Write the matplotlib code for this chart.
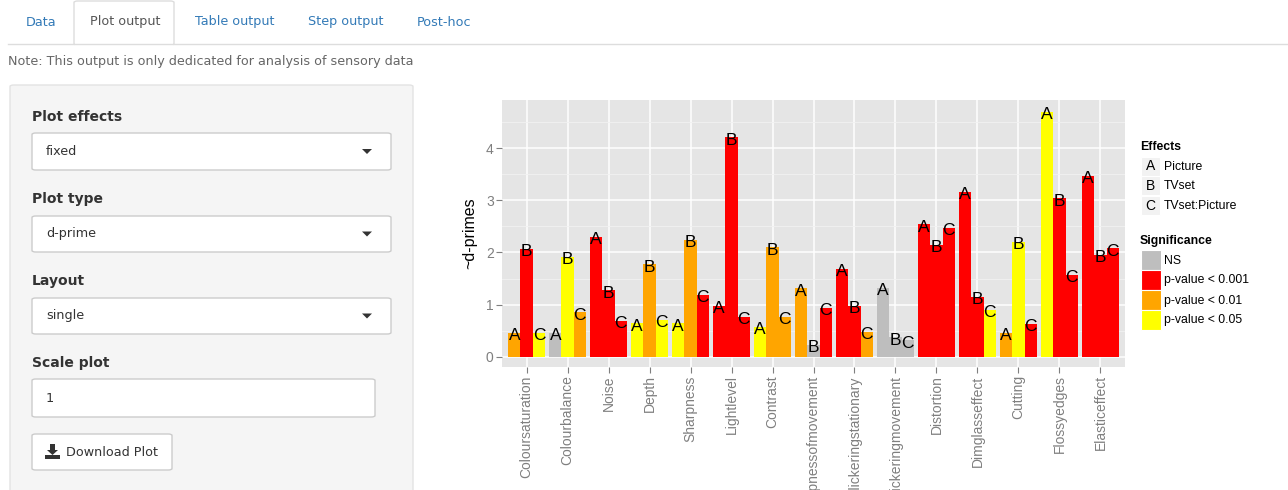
import numpy as np
import matplotlib.pyplot as plt
from matplotlib.patches import FancyBboxPatch, Rectangle, Polygon

# d-prime values per attribute and effect
attributes = ["Coloursaturation", "Colourbalance", "Noise", "Depth", "Sharpness",
              "Lightlevel", "Contrast", "Sharpnessofmovement", "Flickeringstationary",
              "Flickeringmovement", "Distortion", "Dimglasseffect", "Cutting",
              "Flossyedges", "Elasticeffect"]
effects = ["A", "B", "C"]
effect_names = ["Picture", "TVset", "TVset:Picture"]

dprime_picture = [0.46, 0.45, 2.30, 0.64, 0.64, 0.97, 0.57, 1.31, 1.68, 1.32, 2.54, 3.16, 0.46, 4.70, 3.47]
dprime_tvset = [2.07, 1.91, 1.27, 1.77, 2.24, 4.21, 2.10, 0.22, 0.98, 0.37, 2.14, 1.15, 2.21, 3.04, 1.96]
dprime_inter = [0.46, 0.85, 0.68, 0.70, 1.19, 0.76, 0.77, 0.93, 0.47, 0.31, 2.48, 0.90, 0.63, 1.57, 2.08]

# significance: 0 = NS, 1 = p<0.001, 2 = p<0.01, 3 = p<0.05
sig_picture = [2, 0, 1, 3, 3, 1, 3, 2, 1, 0, 1, 1, 2, 3, 1]
sig_tvset = [1, 3, 1, 2, 2, 1, 2, 0, 1, 0, 1, 1, 3, 1, 1]
sig_inter = [3, 2, 1, 3, 1, 1, 2, 1, 2, 0, 1, 3, 1, 1, 1]

sig_labels = ["NS", "p-value < 0.001", "p-value < 0.01", "p-value < 0.05"]
sig_colors = ["#BEBEBE", "#FF0000", "#FFA500", "#FFFF00"]

W, H = 1288, 490
fig = plt.figure(figsize=(W / 100, H / 100), dpi=100)
fig.patch.set_facecolor("white")


def fx(x):
    return x / W


def fy(y):
    return 1 - y / H


ui = "DejaVu Sans"
blue = "#337AB7"

# ---- tabs ----
fig.add_artist(plt.Line2D([fx(8), fx(W)], [fy(44.5), fy(44.5)], color="#DDDDDD", lw=1))
fig.add_artist(FancyBboxPatch((fx(74), fy(45)), fx(100), 44 / H,
                              boxstyle="round,pad=0,rounding_size=0.003",
                              fc="white", ec="#DDDDDD", lw=1))
fig.add_artist(Rectangle((fx(75), fy(46)), fx(98), 3 / H, fc="white", ec="none"))
for label, x0, col in [("Data", 26, blue), ("Plot output", 90, "#555555"),
                       ("Table output", 195, blue), ("Step output", 308, blue),
                       ("Post-hoc", 417, blue)]:
    fig.text(fx(x0), fy(22), label, color=col, fontsize=9.2, family=ui, va="center")
fig.text(fx(8), fy(62), "Note: This output is only dedicated for analysis of sensory data",
         color="#666666", fontsize=9.2, family=ui, va="center")

# ---- sidebar ----
fig.add_artist(FancyBboxPatch((fx(10), fy(495)), fx(403), 410 / H,
                              boxstyle="round,pad=0,rounding_size=0.003",
                              fc="#F5F5F5", ec="#E3E3E3", lw=1))
controls = [("Plot effects", 117, "fixed", 133, 170, 391, True),
            ("Plot type", 199, "d-prime", 216, 252, 391, True),
            ("Layout", 281, "single", 298, 334, 391, True),
            ("Scale plot", 363, "1", 379, 417, 375, False)]
for lab, ly, val, y0, y1, x1, caret in controls:
    fig.text(fx(32), fy(ly), lab, fontsize=10, weight="bold", color="#333333",
             family=ui, va="center")
    fig.add_artist(FancyBboxPatch((fx(32), fy(y1)), fx(x1 - 32), (y1 - y0) / H,
                                  boxstyle="round,pad=0,rounding_size=0.003",
                                  fc="white", ec="#CCCCCC", lw=1))
    fig.text(fx(46), fy((y0 + y1) / 2), val, fontsize=9.2, color="#333333",
             family=ui, va="center")
    if caret:
        cy = (y0 + y1) / 2
        fig.add_artist(Polygon([(fx(362), fy(cy - 2.5)), (fx(372), fy(cy - 2.5)),
                                (fx(367), fy(cy + 2.5))], closed=True,
                               fc="#333333", ec="none"))

# download button
fig.add_artist(FancyBboxPatch((fx(32), fy(470)), fx(140), 36 / H,
                              boxstyle="round,pad=0,rounding_size=0.003",
                              fc="white", ec="#CCCCCC", lw=1))
fig.add_artist(Polygon([(fx(50), fy(444)), (fx(55), fy(444)), (fx(55), fy(450)),
                        (fx(58), fy(450)), (fx(52.5), fy(455)), (fx(47), fy(450)),
                        (fx(50), fy(450))], closed=True, fc="#333333", ec="none"))
fig.add_artist(Rectangle((fx(45), fy(459)), fx(15), 4 / H, fc="#333333", ec="none"))
fig.text(fx(66), fy(452), "Download Plot", fontsize=9.2, color="#333333",
         family=ui, va="center")

# ---- ggplot-like chart ----
ax = fig.add_axes([fx(502), fy(367), fx(1125 - 502), (367 - 100) / H])
ax.set_facecolor("#E5E5E5")
for s in ax.spines.values():
    s.set_visible(False)

x = np.arange(len(attributes))
width = 0.3
series = [(dprime_picture, sig_picture), (dprime_tvset, sig_tvset), (dprime_inter, sig_inter)]
for k, (vals, sigs) in enumerate(series):
    pos = x + (k - 1) * width
    ax.bar(pos, vals, width, color=[sig_colors[s] for s in sigs], edgecolor="none", zorder=2)
    for px, v in zip(pos, vals):
        ax.annotate(effects[k], (px, v), xytext=(0, -2), textcoords="offset points",
                    ha="center", va="center", fontsize=12.5, family="Liberation Sans",
                    color="black", zorder=3)

ax.set_xlim(-0.6, len(attributes) - 0.4)
ax.set_ylim(-0.2, 4.93)
ax.set_yticks([0, 1, 2, 3, 4])
ax.set_yticks(np.arange(0.5, 5, 1), minor=True)
ax.set_xticks(x)
ax.set_xticklabels(attributes, rotation=90, family="Liberation Sans", fontsize=10,
                   color="#7F7F7F")
for t in ax.get_yticklabels():
    t.set_family("Liberation Sans")
    t.set_fontsize(10)
    t.set_color("#7F7F7F")
ax.grid(True, which="major", color="white", lw=1.1, zorder=0)
ax.grid(True, which="minor", axis="y", color="#F2F2F2", lw=0.6, zorder=0)
ax.set_axisbelow(True)
ax.tick_params(which="major", length=4, color="#7F7F7F", pad=2)
ax.tick_params(which="minor", length=0)
ax.set_ylabel("~d-primes", family="Liberation Sans", fontsize=11.5, labelpad=6)

# ---- legends ----
fig.text(fx(1140), fy(147), "Effects", fontsize=8.8, weight="bold",
         family="Liberation Sans", va="center")
for i, (e, n) in enumerate(zip(effects, effect_names)):
    y0 = 157 + i * 19.5
    fig.add_artist(Rectangle((fx(1141), fy(y0 + 19)), fx(19), 19 / H,
                             fc="#F2F2F2", ec="white", lw=0.8))
    fig.text(fx(1150.5), fy(y0 + 9.5), e, fontsize=10, family="Liberation Sans",
             ha="center", va="center")
    fig.text(fx(1164), fy(y0 + 9.5), n, fontsize=8.8, family="Liberation Sans",
             va="center")

fig.text(fx(1140), fy(241), "Significance", fontsize=8.8, weight="bold",
         family="Liberation Sans", va="center")
for i, (lab, col) in enumerate(zip(sig_labels, sig_colors)):
    y0 = 250 + i * 20
    fig.add_artist(Rectangle((fx(1141), fy(y0 + 20)), fx(20), 20 / H,
                             fc=col, ec="white", lw=0.8))
    fig.text(fx(1164), fy(y0 + 10.5), lab, fontsize=8.8, family="Liberation Sans",
             va="center")

fig.savefig("out.png", dpi=100)
